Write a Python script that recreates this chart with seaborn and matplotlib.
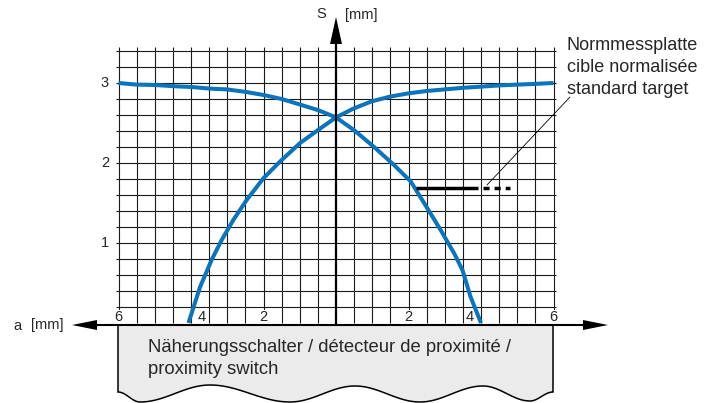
import numpy as np
import pandas as pd
import matplotlib
matplotlib.use("Agg")
import matplotlib.pyplot as plt
import seaborn as sns
from matplotlib.patches import Polygon

# ---------------- data ----------------
# switching curve that rises towards +a
rise_a = [-4.07, -3.75, -3.43, -3.15, -2.83, -2.46, -2.0, -1.54, -0.99, -0.44,
          0.0, 0.48, 0.98, 1.49, 1.99, 2.5, 3.0, 3.51, 4.02, 4.52, 5.03, 5.54, 6.0]
rise_s = [0.0, 0.45, 0.79, 1.04, 1.29, 1.54, 1.81, 2.02, 2.25, 2.43,
          2.57, 2.68, 2.77, 2.83, 2.87, 2.9, 2.92, 2.94, 2.955, 2.97, 2.98, 2.99, 3.0]
# mirror curve that falls towards +a
fall_a = [-6.0, -5.5, -4.99, -4.49, -3.98, -3.48, -3.02, -2.51, -2.0, -1.5, -0.99,
          -0.49, 0.0, 0.5, 1.05, 1.6, 2.06, 2.43, 2.89, 3.26, 3.49, 3.71, 4.0]
fall_s = [3.0, 2.98, 2.975, 2.96, 2.95, 2.93, 2.92, 2.89, 2.85, 2.8, 2.73,
          2.66, 2.57, 2.41, 2.2, 1.975, 1.77, 1.5, 1.16, 0.87, 0.66, 0.33, 0.0]

# standard target position
target_s = 1.69
target_solid = [2.2, 3.92]
target_dashed = [4.06, 4.8]

x_tick_values = [-6, -3.7, -2, 2, 3.7, 6]
x_tick_labels = ["6", "4", "2", "2", "4", "6"]
y_tick_values = [1, 2, 3]
y_tick_labels = ["1", "2", "3"]

target_label = ["Normmessplatte", "cible normalisée", "standard target"]
switch_label = ["Näherungsschalter / détecteur de proximité /", "proximity switch"]

# ---------------- style ----------------
sns.set_theme(style="white")
plt.rcParams["font.family"] = ["Liberation Sans", "DejaVu Sans"]

BLUE = "#0a74bd"
W, H = 718, 403
fig = plt.figure(figsize=(W / 100, H / 100), dpi=100)
ax = fig.add_axes([0, 0, 1, 1])

# pixel helpers for decorative shapes (36.25 px per mm in a, 80 px per mm in S)
def px2x(p):
    return (np.asarray(p, dtype=float) - 336) / 36.25

def px2y(p):
    return (323 - np.asarray(p, dtype=float)) / 80

# ---------------- grid ----------------
vx = np.arange(-6, 6.01, 0.5)
ax.vlines(vx[vx != 0], 0, 3.45, color="#1a1a1a", lw=0.8, zorder=1)
hy = np.arange(0.2, 3.41, 0.2)
ax.hlines(hy, -6.08, 6.08, color="#1a1a1a", lw=0.8, zorder=1)

# ---------------- curves ----------------
df = pd.concat([
    pd.DataFrame({"a": rise_a, "S": rise_s, "curve": "rise"}),
    pd.DataFrame({"a": fall_a, "S": fall_s, "curve": "fall"}),
])
sns.lineplot(data=df, x="a", y="S", units="curve", estimator=None,
             color=BLUE, lw=2.9, ax=ax, legend=False, zorder=4,
             solid_capstyle="butt", solid_joinstyle="round")

# target
ax.plot(target_solid, [target_s, target_s], color="black", lw=2.5,
        solid_capstyle="butt", zorder=5)
ax.plot(target_dashed, [target_s, target_s], color="black", lw=2.5,
        dashes=(1.75, 1.45), zorder=5)
ax.plot(px2x([487, 570]), px2y([185, 97]), color="black", lw=0.6, zorder=5)

# ---------------- switch box ----------------
wave_px = np.array([118, 140, 210, 290, 355, 420, 483, 530, 553])
wave_py = np.array([392, 402, 385, 402, 386, 402, 386, 401, 392])
xs, ys = [], []
for i in range(len(wave_px) - 1):
    t = np.linspace(0, 1, 30)
    s = (1 - np.cos(np.pi * t)) / 2
    xs.append(wave_px[i] + (wave_px[i + 1] - wave_px[i]) * t)
    ys.append(wave_py[i] + (wave_py[i + 1] - wave_py[i]) * s)
xs = np.concatenate(xs)
ys = np.concatenate(ys)
poly_x = np.concatenate([[118], xs, [553]])
poly_y = np.concatenate([[325], ys, [325]])
box = Polygon(np.column_stack([px2x(poly_x), px2y(poly_y)]), closed=False,
              facecolor="#ebebeb", edgecolor="black", lw=1.1, zorder=2)
ax.add_patch(box)

# ---------------- axes arrows ----------------
y_axis = px2y(325)
ax.plot([px2x(96), px2x(584)], [y_axis, y_axis], color="black", lw=1.5, zorder=6)
ax.add_patch(Polygon([[px2x(72), y_axis], [px2x(97), px2y(320)], [px2x(97), px2y(330)]],
                     closed=True, color="black", lw=0, zorder=6))
ax.add_patch(Polygon([[px2x(608), y_axis], [px2x(583), px2y(320)], [px2x(583), px2y(330)]],
                     closed=True, color="black", lw=0, zorder=6))
ax.plot([0, 0], [y_axis, px2y(42)], color="black", lw=1.6, zorder=6)
ax.add_patch(Polygon([[0, px2y(17)], [px2x(330), px2y(44)], [px2x(342), px2y(44)]],
                     closed=True, color="black", lw=0, zorder=6))

# ---------------- texts ----------------
small = 10.5
for v, lab in zip(x_tick_values, x_tick_labels):
    ax.text(v, 0.02, lab, ha="center", va="baseline", fontsize=small, zorder=3,
            bbox=dict(facecolor="white", edgecolor="none", pad=0.6))
for v, lab in zip(y_tick_values, y_tick_labels):
    ax.text(-6.26, v, lab, ha="right", va="center", fontsize=small)

ax.text(px2x(316.5), px2y(18.5), "S", ha="left", va="baseline", fontsize=small)
ax.text(px2x(345), px2y(18.5), "[mm]", ha="left", va="baseline", fontsize=small)
ax.text(px2x(13), px2y(329.5), "a", ha="left", va="baseline", fontsize=small)
ax.text(px2x(31.5), px2y(329.5), "[mm]", ha="left", va="baseline", fontsize=small)

for lab, b in zip(target_label, [49.5, 72.5, 94.5]):
    ax.text(px2x(567), px2y(b), lab, ha="left", va="baseline", fontsize=13)
for lab, b in zip(switch_label, [352.5, 374.5]):
    ax.text(px2x(148), px2y(b), lab, ha="left", va="baseline", fontsize=13.3, zorder=3)

ax.set_xlim(px2x(0), px2x(W))
ax.set_ylim(px2y(H), px2y(0))
ax.set_axis_off()

fig.savefig("out.png", dpi=100)
